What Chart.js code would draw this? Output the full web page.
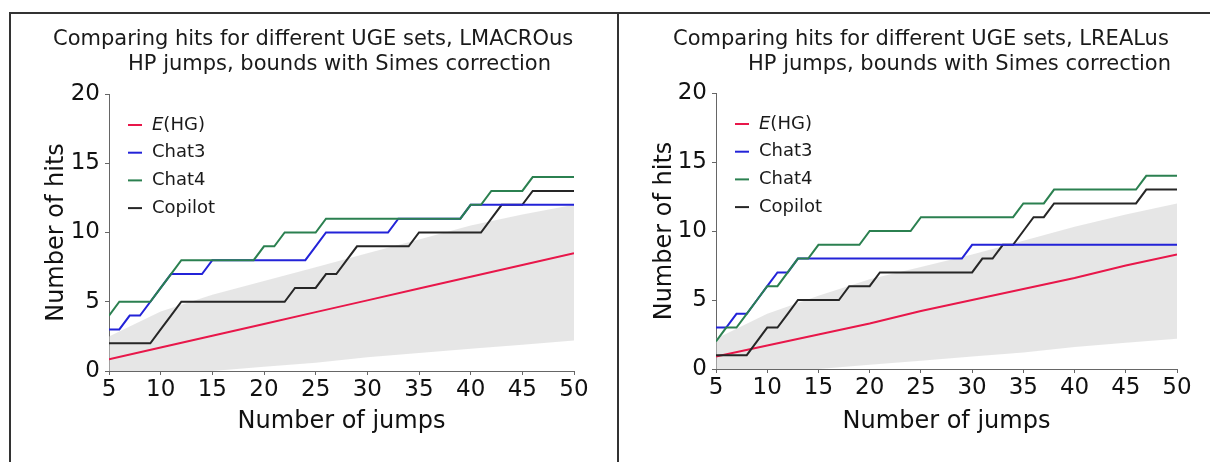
<!DOCTYPE html>
<html>
<head>
<meta charset="utf-8">
<script src="https://cdn.jsdelivr.net/npm/chart.js@4.4.1/dist/chart.umd.min.js"></script>
<style>
  body { margin:0; background:#fff; width:1210px; height:462px; overflow:hidden; position:relative; }
  .frame { position:absolute; border:2px solid #333; box-sizing:border-box; }
  #f1 { left:9px; top:12px; width:610px; height:480px; }
  #f2 { left:617px; top:12px; width:620px; height:480px; }
  canvas { position:absolute; }
  #c1 { left:11px; top:14px; }
  #c2 { left:619px; top:14px; }
</style>
</head>
<body>
<div class="frame" id="f1"></div>
<div class="frame" id="f2"></div>
<canvas id="c1" width="605" height="448"></canvas>
<canvas id="c2" width="591" height="448"></canvas>
<script>
// number of jumps (x) for the step series
const jumps = [5,6,7,8,9,10,11,12,13,14,15,16,17,18,19,20,21,22,23,24,25,26,27,28,29,30,31,32,33,34,35,36,37,38,39,40,41,42,43,44,45,46,47,48,49,50];
// coarser x positions for the expected line and the bounds band
const bandJumps = [5,10,15,20,25,30,35,40,45,50];

const legendNames = ['E(HG)', 'Chat3', 'Chat4', 'Copilot'];
const seriesColors = ['#e8174a', '#2323d8', '#2b8050', '#262626'];

// LMACROus panel
const macroEhg     = [0.85,1.7,2.55,3.4,4.25,5.1,5.95,6.8,7.65,8.5];
const macroChat3   = [3,3,4,4,5,6,7,7,7,7, 8,8,8,8,8,8,8,8,8,8, 9,10,10,10,10,10,10,10,11,11, 11,11,11,11,11,12,12,12,12,12, 12,12,12,12,12,12];
const macroChat4   = [4,5,5,5,5,6,7,8,8,8, 8,8,8,8,8,9,9,10,10,10, 10,11,11,11,11,11,11,11,11,11, 11,11,11,11,11,12,12,13,13,13, 13,14,14,14,14,14];
const macroCopilot = [2,2,2,2,2,3,4,5,5,5, 5,5,5,5,5,5,5,5,6,6, 6,7,7,8,9,9,9,9,9,9, 10,10,10,10,10,10,10,11,12,12, 12,13,13,13,13,13];
const macroUpper   = [2.5,4.3,5.5,6.5,7.5,8.5,9.5,10.5,11.3,12];
const macroLower   = [0,0,0,0.3,0.6,1.0,1.3,1.6,1.9,2.2];

// LREALus panel
const realEhg     = [0.9,1.7,2.5,3.3,4.2,5.0,5.8,6.6,7.5,8.3];
const realChat3   = [3,3,4,4,5,6,7,7,8,8, 8,8,8,8,8,8,8,8,8,8, 8,8,8,8,8,9,9,9,9,9, 9,9,9,9,9,9,9,9,9,9, 9,9,9,9,9,9];
const realChat4   = [2,3,3,4,5,6,6,7,8,8, 9,9,9,9,9,10,10,10,10,10, 11,11,11,11,11,11,11,11,11,11, 12,12,12,13,13,13,13,13,13,13, 13,13,14,14,14,14];
const realCopilot = [1,1,1,1,2,3,3,4,5,5, 5,5,5,6,6,6,7,7,7,7, 7,7,7,7,7,7,8,8,9,9, 10,11,11,12,12,12,12,12,12,12, 12,12,13,13,13,13];
const realUpper   = [2.2,4.0,5.3,6.5,7.4,8.3,9.3,10.3,11.2,12.0];
const realLower   = [0,0,0,0.3,0.6,0.9,1.2,1.6,1.9,2.2];

const FONT = '"DejaVu Sans", Verdana, sans-serif';

const pts = (xs, ys) => xs.map((x, i) => ({ x: x, y: ys[i] }));

const decor = {
  id: 'decor',
  afterDraw(chart, args, o) {
    const ctx = chart.ctx, a = chart.chartArea;
    ctx.save();
    ctx.fillStyle = '#1a1a1a';
    ctx.textBaseline = 'middle';
    ctx.textAlign = 'left';
    ctx.font = '21px ' + FONT;
    o.title.forEach((t, i) => ctx.fillText(t, o.titleX[i], o.titleY[i]));

    legendNames.forEach((n, i) => {
      const y = a.top + 31 + i * 27.7;
      ctx.strokeStyle = seriesColors[i];
      ctx.lineWidth = 2;
      ctx.beginPath();
      ctx.moveTo(a.left + 19, y);
      ctx.lineTo(a.left + 33, y);
      ctx.stroke();
      let x = a.left + 43;
      if (i === 0) {
        ctx.font = 'italic 18px ' + FONT;
        ctx.fillText('E', x, y);
        x += ctx.measureText('E').width;
        ctx.font = '18px ' + FONT;
        ctx.fillText('(HG)', x, y);
      } else {
        ctx.font = '18px ' + FONT;
        ctx.fillText(n, x, y);
      }
    });
    ctx.restore();
  }
};

function makeChart(id, d, L) {
  const line = (label, data, color, order) => ({
    label: label, data: data, borderColor: color, borderWidth: 2,
    pointRadius: 0, tension: 0, fill: false, order: order
  });
  return new Chart(document.getElementById(id), {
    type: 'line',
    data: {
      datasets: [
        { label: 'lower', data: pts(bandJumps, d.lower), borderWidth: 0, pointRadius: 0, fill: false, order: 10 },
        { label: 'upper', data: pts(bandJumps, d.upper), borderWidth: 0, pointRadius: 0, fill: '-1',
          backgroundColor: 'rgba(210,210,210,0.55)', order: 11 },
        line('E(HG)', pts(bandJumps, d.ehg), seriesColors[0], 4),
        line('Chat3', pts(jumps, d.chat3), seriesColors[1], 2),
        line('Chat4', pts(jumps, d.chat4), seriesColors[2], 1),
        line('Copilot', pts(jumps, d.copilot), seriesColors[3], 3)
      ]
    },
    options: {
      responsive: false,
      animation: false,
      layout: { padding: { top: L.top, right: L.right, left: 0, bottom: 0 } },
      plugins: {
        legend: { display: false },
        tooltip: { enabled: false },
        decor: { title: d.title, titleX: L.titleX, titleY: L.titleY }
      },
      scales: {
        x: {
          type: 'linear', min: 5, max: 50,
          ticks: { stepSize: 5, color: '#111', padding: 1, maxRotation: 0, font: { size: 23, family: FONT } },
          grid: { drawOnChartArea: false, tickLength: 4, color: '#666' },
          border: { color: '#666' },
          title: { display: true, text: 'Number of jumps', color: '#111', font: { size: 24, family: FONT },
                   padding: { top: 0, bottom: 26 } },
          afterFit: s => { s.height = L.xh; }
        },
        y: {
          min: 0, max: 20,
          ticks: { stepSize: 5, color: '#111', padding: 5, font: { size: 23, family: FONT } },
          grid: { drawOnChartArea: false, tickLength: 4, color: '#666' },
          border: { color: '#666' },
          title: { display: true, text: 'Number of hits', color: '#111', font: { size: 24, family: FONT },
                   padding: { top: 31, bottom: 0 } },
          afterFit: s => { s.width = L.yw; }
        }
      }
    },
    plugins: [decor]
  });
}

makeChart('c1', {
  title: ['Comparing hits for different UGE sets, LMACROus', 'HP jumps, bounds with Simes correction'],
  ehg: macroEhg, chat3: macroChat3, chat4: macroChat4, copilot: macroCopilot, upper: macroUpper, lower: macroLower
}, { top: 80, right: 42, xh: 91, yw: 98, titleX: [42, 117], titleY: [26, 51] });

makeChart('c2', {
  title: ['Comparing hits for different UGE sets, LREALus', 'HP jumps, bounds with Simes correction'],
  ehg: realEhg, chat3: realChat3, chat4: realChat4, copilot: realCopilot, upper: realUpper, lower: realLower
}, { top: 79, right: 33, xh: 93, yw: 97, titleX: [54, 129], titleY: [26, 51] });
</script>
</body>
</html>
